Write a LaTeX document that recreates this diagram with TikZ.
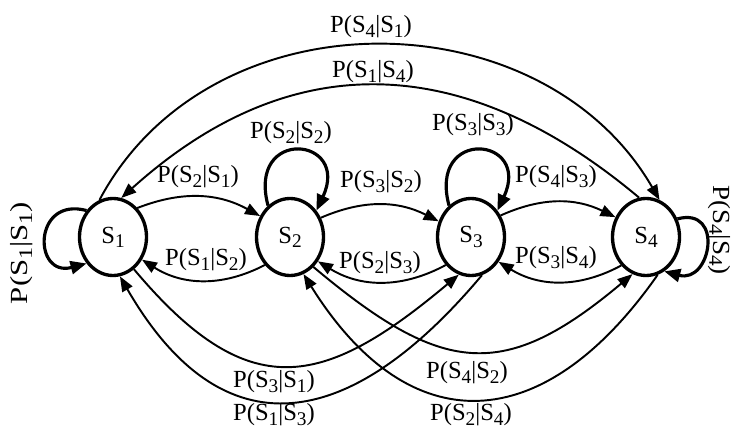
\documentclass[tikz,border=0pt]{standalone}
\usepackage{fontspec}
\setmainfont{Liberation Serif}
\usetikzlibrary{arrows.meta,shapes.geometric}
\tikzset{
  statenode/.style = {ellipse,draw,line width=1.9pt,minimum width=1.34cm,minimum height=1.54cm,inner sep=0pt},
  transarr/.style  = {-{Triangle[length=3mm,width=2.3mm]},line width=1.1pt},
  looparr/.style   = {-{Triangle[length=3.2mm,width=2.6mm]},line width=1.8pt},
  problabel/.style = {inner sep=0pt}
}
\newcommand{\lowsub}[1]{\raisebox{-0.17em}{\fontsize{11}{12}\selectfont #1}}
\newcommand{\ptrans}[2]{P(S\lowsub{#1}|S\lowsub{#2})}
\newcommand{\sname}[1]{S\lowsub{#1}}

\begin{document}
\begin{tikzpicture}[font=\fontsize{14}{16}\selectfont]
  \useasboundingbox (0,0) rectangle (14.64,8.6);
  \node[statenode] (s1) at (2.26,3.86)  {\sname{1}};
  \node[statenode] (s2) at (5.80,3.86)  {\sname{2}};
  \node[statenode] (s3) at (9.42,3.86)  {\sname{3}};
  \node[statenode] (s4) at (12.92,3.86) {\sname{4}};

  % self loops
  \draw[looparr] (s1.135) to[out=165,in=195,looseness=2.7] (s1.225);
  \draw[looparr] (s2.125) to[out=105,in=65,looseness=4.3] (s2.45);
  \draw[looparr] (s3.125) to[out=105,in=65,looseness=4.3] (s3.45);
  \draw[looparr] (s4.30) to[out=15,in=-15,looseness=2.3] (s4.-62);

  % neighbours
  \draw[transarr] (s1.50) to[bend left=25] (s2.145);
  \draw[transarr] (s2.228) to[bend left=30] (s1.322);
  \draw[transarr] (s2.32) to[bend left=25] (s3.154);
  \draw[transarr] (s3.228) to[bend left=30] (s2.319);
  \draw[transarr] (s3.36) to[bend left=25] (s4.147);
  \draw[transarr] (s4.229) to[bend left=30] (s3.318);

  % long arcs over the top
  \draw[transarr] (s1.110) to[out=62,in=120,looseness=1.08] (s4.70);
  \draw[transarr] (s4.100) to[out=140,in=42,looseness=1.13] (s1.78);

  % long arcs underneath
  \draw[transarr] (s1.-57) to[out=-50,in=220,looseness=1.4] (s3.-108);
  \draw[transarr] (s3.-74) to[out=230,in=-60,looseness=1.45] (s1.-80);
  \draw[transarr] (s2.-52) to[out=-40,in=220,looseness=1.35] (s4.-110);
  \draw[transarr] (s4.-73) to[out=235,in=-58,looseness=1.44] (s2.-70);

  \node[problabel] (l41) at (7.42,8.06) {\ptrans{4}{1}};
  \node[problabel] (l14) at (7.46,7.16) {\ptrans{1}{4}};
  \node[problabel] (l22) at (5.82,5.94) {\ptrans{2}{2}};
  \node[problabel] (l33) at (9.46,6.10) {\ptrans{3}{3}};
  \node[problabel] (l21) at (3.96,5.06) {\ptrans{2}{1}};
  \node[problabel] (l32) at (7.62,4.96) {\ptrans{3}{2}};
  \node[problabel] (l43) at (11.12,5.06) {\ptrans{4}{3}};
  \node[problabel] (l12) at (4.12,3.40) {\ptrans{1}{2}};
  \node[problabel] (l23) at (7.60,3.34) {\ptrans{2}{3}};
  \node[problabel] (l34) at (11.12,3.44) {\ptrans{3}{4}};
  \node[problabel] (l31) at (5.48,0.96) {\ptrans{3}{1}};
  \node[problabel] (l13) at (5.48,0.30) {\ptrans{1}{3}};
  \node[problabel] (l42) at (9.34,1.14) {\ptrans{4}{2}};
  \node[problabel] (l24) at (9.42,0.30) {\ptrans{2}{4}};
  \node[problabel,rotate=90]  (l11) at (0.44,3.54) {\scalebox{1.25}[1]{\ptrans{1}{1}}};
  \node[problabel,rotate=-90] (l44) at (14.39,4.00) {\scalebox{1.1}[1]{\ptrans{4}{4}}};
\end{tikzpicture}
\end{document}
